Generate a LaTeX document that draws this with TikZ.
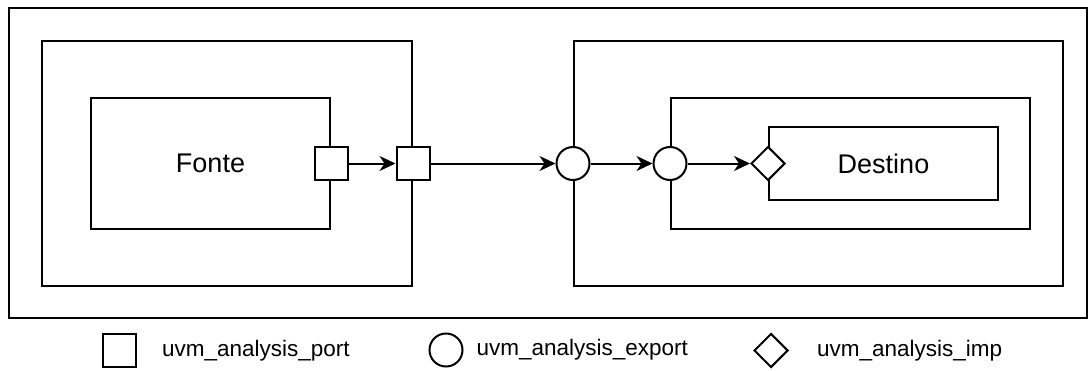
\documentclass[tikz,border=0pt]{standalone}
\usepackage{fontspec}
\setmainfont{Liberation Sans}
\usetikzlibrary{arrows.meta}
\usetikzlibrary{positioning}
\usetikzlibrary{shapes.geometric}

\begin{document}
\begin{tikzpicture}[x=1pt,y=-1pt,line width=2pt,
  box/.style={draw,rectangle,inner sep=0pt,anchor=north west,font=\fontsize{27}{32}\selectfont},
  port/.style={draw,fill=white,rectangle,minimum size=33pt,inner sep=0pt},
  export/.style={draw,fill=white,circle,minimum size=33pt,inner sep=0pt},
  imp/.style={draw,fill=white,diamond,minimum size=34pt,inner sep=0pt},
  flow/.style={-{Stealth[length=16pt,width=15pt,inset=5pt]}},
  legend/.style={inner sep=0pt,font=\fontsize{22.5}{27}\selectfont}]

\useasboundingbox (0,0) rectangle (1088,370);

\node[box,minimum width=1078pt,minimum height=310pt] (top) at (8,7) {};

\node[box,minimum width=370pt,minimum height=245pt] (env1) at (41,40) {};
\node[box,minimum width=239pt,minimum height=131pt] (fonte) at (90,97) {Fonte};

\node[box,minimum width=489pt,minimum height=245pt] (env2) at (573,40) {};
\node[box,minimum width=359pt,minimum height=131pt] (agent) at (670,97) {};
\node[box,minimum width=229pt,minimum height=73pt] (destino) at (768,126) {Destino};

\node[port] (fport) at (fonte.east) {};
\node[port] (eport) at (env1.east) {};
\node[export] (eexp) at (env2.west) {};
\node[export] (aexp) at (agent.west) {};
\node[imp] (dimp) at (destino.west) {};

\draw[flow] (fport) -- (eport);
\draw[flow] (eport) -- (eexp);
\draw[flow] (eexp) -- (aexp);
\draw[flow] (aexp) -- (dimp);

% legenda
\node[port] (lport) at (119.5,350.5) {};
\node[legend,right=24pt of lport] (lporttxt) {uvm\_analysis\_port};
\node[export] (lexp) at (446,350) {};
\node[legend,right=12pt of lexp] (lexptxt) {uvm\_analysis\_export};
\node[imp] (limp) at (771,350.5) {};
\node[legend,right=27pt of limp] (limptxt) {uvm\_analysis\_imp};

\end{tikzpicture}
\end{document}
